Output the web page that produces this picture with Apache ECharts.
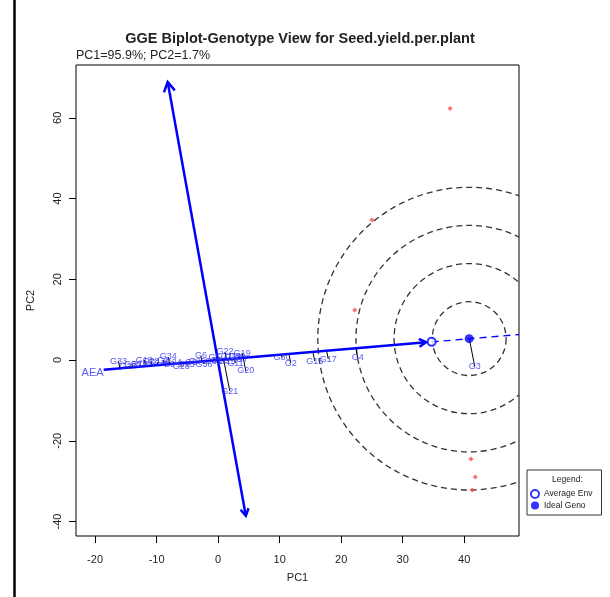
<!DOCTYPE html>
<html>
<head>
<meta charset="utf-8">
<script src="https://cdn.jsdelivr.net/npm/echarts@6/dist/echarts.min.js"></script>
<style>
  html, body { margin: 0; padding: 0; background: #fff; }
  #chart { width: 610px; height: 597px; }
</style>
</head>
<body>
<div id="chart"></div>
<script>
// genotype scores (PC1, PC2)
const genoNames = ['G1','G2','G3','G4','G5','G6','G7','G8','G9','G10','G11','G12',
  'G13','G14','G15','G16','G17','G18','G19','G20','G21','G22','G23','G24',
  'G25','G26','G27','G28','G29','G30','G31','G32','G33','G34','G35','G36']
const genoPC1 = [-8.9, 11.8, 41.7, 22.7, -0.6, -2.8, 3.9, -4.4, -8.0, -12.8, 2.8, 1.8,
  2.4, -9.9, 1.5, 15.7, 17.9, -12.0, 3.9, 4.5, 1.9, 1.1, -6.0, -7.3,
  -5.2, -3.4, -14.6, -10.9, 3.1, 10.4, -0.8, 0.2, -16.2, -8.1, -13.9, -2.3]
const genoPC2 = [0.0, -0.75, -1.5, 0.5, 0.5, 1.0, 0.25, -0.5, -1.2, -1.2, -0.75, 0.75,
  0.5, -0.5, -0.25, -0.25, 0.25, 0.0, 1.7, -2.7, -7.7, 2.0, -1.5, -0.5,
  -1.2, -0.25, -1.5, -0.25, 0.75, 0.5, -0.25, 0.0, -0.25, 0.75, -1.0, -1.0]

// environment markers (red)
const envPC1 = [37.7, 25.0, 22.2, 41.1, 41.8, 41.3]
const envPC2 = [62.3, 34.7, 12.4, -24.5, -29.0, -32.2]

const avgEnv = [34.7, 4.5]
const idealGeno = [40.8, 5.3]
const circleRadii = [6.0, 12.2, 18.4, 24.6]

// arrows: x1, y1, x2, y2, head at start, head at end, dashed
const aeaArrow = [-18.6, -2.4, 33.8, 4.4, 0, 1, 0]
const aeaDashed = [34.7, 4.5, 49.5, 6.4, 0, 0, 1]
const atcArrow = [-8.2, 68.9, 4.5, -38.6, 1, 1, 0]
const aeaLabelAt = [-20.4, -3.1]

const xTicks = [-20, -10, 0, 10, 20, 30, 40]
const yTicks = [-40, -20, 0, 20, 40, 60]

const font = 'Liberation Sans, Arial, sans-serif'
const blue = '#0000ff'

const myChart = echarts.init(document.getElementById('chart'))

const len = Math.sqrt(avgEnv[0] * avgEnv[0] + avgEnv[1] * avgEnv[1])
const ux = avgEnv[0] / len, uy = avgEnv[1] / len

function vHead(tip, from, size) {
  const ang = Math.atan2(tip[1] - from[1], tip[0] - from[0])
  const a1 = ang + Math.PI - Math.PI / 6
  const a2 = ang + Math.PI + Math.PI / 6
  return {
    type: 'polyline',
    shape: { points: [
      [tip[0] + size * Math.cos(a1), tip[1] + size * Math.sin(a1)],
      tip,
      [tip[0] + size * Math.cos(a2), tip[1] + size * Math.sin(a2)]
    ] },
    style: { stroke: blue, lineWidth: 2.5, fill: null }
  }
}

myChart.setOption({
  animation: false,
  backgroundColor: '#fff',
  title: {
    text: 'GGE Biplot-Genotype View for Seed.yield.per.plant',
    left: 295, top: 26, textAlign: 'center',
    textStyle: { fontFamily: font, fontSize: 14.5, fontWeight: 'bold', color: '#222' }
  },
  graphic: [
    { type: 'text', left: 76, top: 49,
      style: { text: 'PC1=95.9%; PC2=1.7%', font: '12.5px ' + font, fill: '#222' } },
    { type: 'text', left: 552, top: 475,
      style: { text: 'Legend:', font: '8.5px ' + font, fill: '#222' } },
    { type: 'line', shape: { x1: 14.5, y1: 0, x2: 14.5, y2: 597 },
      style: { stroke: '#000', lineWidth: 2.5 } }
  ],
  legend: {
    data: ['Average Env', 'Ideal Geno'],
    orient: 'vertical', left: 527, top: 470,
    padding: [19, 9, 5, 3], itemGap: 2, itemWidth: 8, itemHeight: 8,
    borderColor: '#333', borderWidth: 1,
    textStyle: { fontFamily: font, fontSize: 8.5, color: '#222' }
  },
  grid: { left: 76, right: 91, top: 65, bottom: 61, show: true, borderColor: '#000', borderWidth: 1 },
  xAxis: {
    type: 'value', min: -23.1, max: 48.9,
    name: 'PC1', nameLocation: 'middle', nameGap: 36,
    nameTextStyle: { fontFamily: font, fontSize: 11, color: '#222' },
    axisLine: { show: false, onZero: false },
    axisTick: { show: true, length: 7, customValues: xTicks, lineStyle: { color: '#000' } },
    axisLabel: { customValues: xTicks, margin: 18, fontFamily: font, fontSize: 11, color: '#222' },
    splitLine: { show: false }
  },
  yAxis: {
    type: 'value', min: -43.6, max: 73.1,
    name: 'PC2', nameLocation: 'middle', nameGap: 40, nameRotate: 90,
    nameTextStyle: { fontFamily: font, fontSize: 11, color: '#222' },
    axisLine: { show: false, onZero: false },
    axisTick: { show: true, length: 7, customValues: yTicks, lineStyle: { color: '#000' } },
    axisLabel: { customValues: yTicks, rotate: 90, margin: 13, fontFamily: font, fontSize: 11, color: '#222' },
    splitLine: { show: false }
  },
  series: [
    {
      // concentric circles round the ideal genotype
      type: 'custom', clip: true, silent: true,
      data: circleRadii.map(r => [idealGeno[0], idealGeno[1], r]),
      renderItem: (params, api) => {
        const c = api.coord([api.value(0), api.value(1)])
        const r = api.size([api.value(2), 0])[0]
        return {
          type: 'circle',
          shape: { cx: c[0], cy: c[1], r: r },
          style: { fill: null, stroke: '#333', lineWidth: 1.3, lineDash: [6, 4] }
        }
      }
    },
    {
      type: 'scatter', symbol: 'diamond', symbolSize: 5, silent: true,
      itemStyle: { color: '#ff4a4a' },
      data: envPC1.map((x, i) => [x, envPC2[i]])
    },
    {
      // projection of each genotype onto the AEA line
      type: 'custom', clip: true, silent: true,
      data: genoPC1.map((x, i) => [x, genoPC2[i]]),
      renderItem: (params, api) => {
        const gx = api.value(0), gy = api.value(1)
        const d = gx * ux + gy * uy
        const a = api.coord([gx, gy])
        const b = api.coord([d * ux, d * uy])
        return {
          type: 'line',
          shape: { x1: a[0], y1: a[1], x2: b[0], y2: b[1] },
          style: { stroke: '#000', lineWidth: 1 }
        }
      }
    },
    {
      type: 'custom', clip: true, silent: true,
      data: [aeaArrow, aeaDashed, atcArrow],
      renderItem: (params, api) => {
        const p1 = api.coord([api.value(0), api.value(1)])
        const p2 = api.coord([api.value(2), api.value(3)])
        const dashed = api.value(6) === 1
        const children = [{
          type: 'line',
          shape: { x1: p1[0], y1: p1[1], x2: p2[0], y2: p2[1] },
          style: { stroke: blue, lineWidth: dashed ? 1.3 : 2.5, lineDash: dashed ? [7, 5] : null }
        }]
        if (api.value(4) === 1) children.push(vHead(p1, p2, 11))
        if (api.value(5) === 1) children.push(vHead(p2, p1, 8))
        return { type: 'group', children: children }
      }
    },
    {
      name: 'Average Env', type: 'scatter', symbol: 'emptyCircle', symbolSize: 8,
      itemStyle: { color: blue, borderColor: blue, borderWidth: 1.5 },
      data: [avgEnv]
    },
    {
      name: 'Ideal Geno', type: 'scatter', symbol: 'circle', symbolSize: 9,
      itemStyle: { color: blue },
      data: [idealGeno]
    },
    {
      type: 'scatter', symbolSize: 1, silent: true,
      itemStyle: { color: 'rgba(0,0,0,0)' },
      label: {
        show: true, position: 'inside', formatter: p => p.name,
        fontFamily: font, fontSize: 9, color: '#3030f0'
      },
      data: genoNames.map((n, i) => ({ name: n, value: [genoPC1[i], genoPC2[i]] }))
    },
    {
      type: 'scatter', symbolSize: 1, silent: true,
      itemStyle: { color: 'rgba(0,0,0,0)' },
      label: {
        show: true, position: 'inside', formatter: 'AEA',
        fontFamily: font, fontSize: 11, color: '#3030f0'
      },
      data: [aeaLabelAt]
    }
  ]
})

window.addEventListener('resize', () => {
  myChart.resize()
})
</script>
</body>
</html>
